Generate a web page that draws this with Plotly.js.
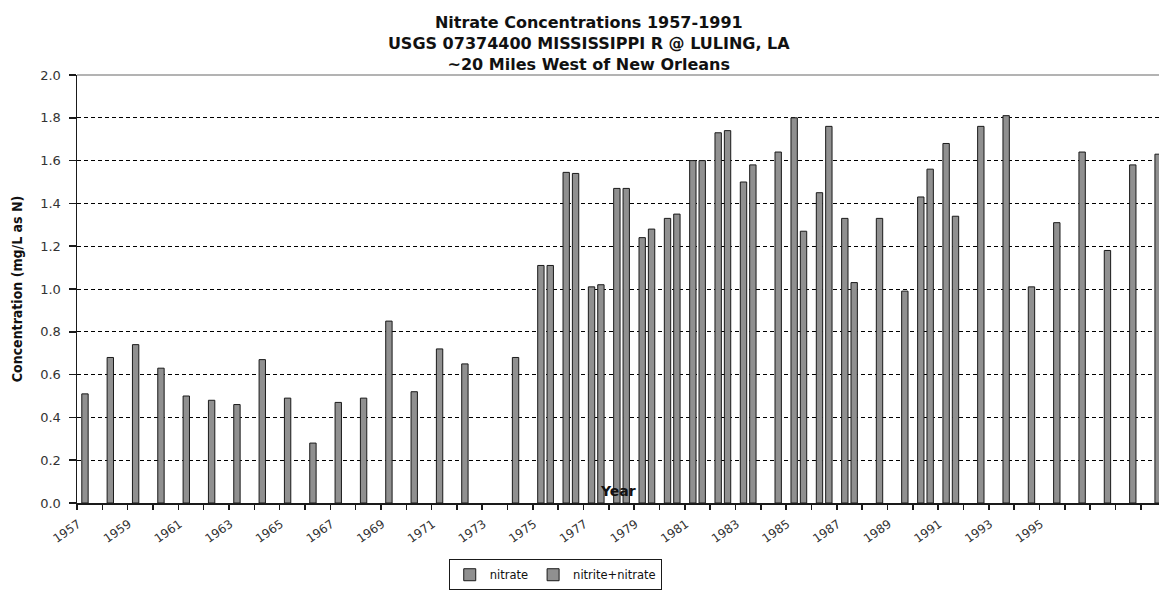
<!DOCTYPE html>
<html lang="en">
<head>
    <meta charset="UTF-8">
    <title>Nitrate Concentrations 1957-1991</title>
    <script src="https://cdn.plot.ly/plotly-3.0.0.min.js" charset="utf-8"></script>
    <style>
        html, body {
            margin: 0;
            padding: 0;
            background: #fff;
            overflow: hidden;
        }

        #chart {
            width: 1159px;
            height: 592px;
        }
    </style>
</head>
<body>
<div id="chart"></div>

<script>
    // Sampling years (one category per year)
    const years = [
        1957, 1958, 1959, 1960, 1961, 1962, 1963, 1964, 1965, 1966,
        1967, 1968, 1969, 1970, 1971, 1972, 1973, 1974, 1975, 1976,
        1977, 1978, 1979, 1980, 1981, 1982, 1983, 1984, 1985, 1986,
        1987, 1988, 1989, 1990, 1991, 1992, 1993, 1994, 1995, 1996,
        1997, 1998, 1999
    ];

    // mg/L as N (null = no value that year)
    const nitrate = [
        0.51, 0.68, 0.74, 0.63, 0.50, 0.48, 0.46, 0.67, 0.49, 0.28,
        0.47, 0.49, 0.85, 0.52, 0.72, 0.65, null, 0.68, 1.11, 1.545,
        1.01, 1.47, 1.24, 1.33, 1.60, 1.73, 1.50, null, 1.80, 1.45,
        1.33, null, null, 1.43, 1.68, null, null, null, null, null,
        null, null, null
    ];

    const nitriteNitrate = [
        null, null, null, null, null, null, null, null, null, null,
        null, null, null, null, null, null, null, null, 1.11, 1.54,
        1.02, 1.47, 1.28, 1.35, 1.60, 1.74, 1.58, 1.64, 1.27, 1.76,
        1.03, 1.33, 0.99, 1.56, 1.34, 1.76, 1.81, 1.01, 1.31, 1.64,
        1.18, 1.58, 1.63
    ];

    // only every other year is labelled, and nothing after 1995
    const labelYears = [
        1957, 1959, 1961, 1963, 1965, 1967, 1969, 1971, 1973, 1975,
        1977, 1979, 1981, 1983, 1985, 1987, 1989, 1991, 1993, 1995
    ];

    const yTicks = [0, 0.2, 0.4, 0.6, 0.8, 1.0, 1.2, 1.4, 1.6, 1.8, 2.0];

    const barStyle = {
        color: '#909090',
        line: { color: '#1a1a1a', width: 1 }
    };

    const traces = [
        {
            type: 'bar',
            name: 'nitrate',
            x: years,
            y: nitrate,
            marker: barStyle
        },
        {
            type: 'bar',
            name: 'nitrite+nitrate',
            x: years,
            y: nitriteNitrate,
            marker: barStyle
        }
    ];

    const sans = 'DejaVu Sans, Verdana, sans-serif';

    // Excel drew the slanted year labels a little left of each year's slot
    const labelShift = -0.45;

    const layout = {
        width: 1159,
        height: 592,
        paper_bgcolor: '#fff',
        plot_bgcolor: '#fff',
        margin: { l: 77, r: 0, t: 75, b: 89, pad: 0 },
        barmode: 'group',
        bargap: 0.26,
        bargroupgap: 0.32,
        showlegend: true,
        title: {
            text: 'Nitrate Concentrations 1957-1991<br>USGS 07374400 MISSISSIPPI R @ LULING, LA<br>~20 Miles West of New Orleans',
            font: { family: sans, size: 16, color: '#111', weight: 'bold' },
            x: 0.508,
            xanchor: 'center',
            y: 0.952,
            yanchor: 'top'
        },
        xaxis: {
            type: 'linear',
            range: [1956.5, 1999.22],
            automargin: false,
            tickmode: 'array',
            tickvals: labelYears.map(y => y + labelShift),
            ticktext: labelYears.map(String),
            tickangle: -35,
            ticks: '',
            ticklabelstandoff: 8,
            tickfont: { family: sans, size: 12, color: '#333' },
            showgrid: false,
            zeroline: false,
            showline: true,
            linecolor: '#1a1a1a',
            linewidth: 1.5,
            minor: {
                tickmode: 'linear',
                tick0: 1956.5,
                dtick: 1,
                ticks: 'outside',
                ticklen: 5,
                tickwidth: 1.5,
                tickcolor: '#1a1a1a',
                showgrid: false
            }
        },
        yaxis: {
            range: [0, 2],
            automargin: false,
            tickmode: 'array',
            tickvals: yTicks,
            ticktext: yTicks.map(v => v.toFixed(1)),
            ticks: 'outside',
            ticklen: 7,
            tickwidth: 1.5,
            tickcolor: '#1a1a1a',
            ticklabelstandoff: 5,
            tickfont: { family: sans, size: 13, color: '#333' },
            showgrid: true,
            gridcolor: '#000',
            gridwidth: 1,
            griddash: '4px,3px',
            zeroline: false,
            showline: true,
            linecolor: '#1a1a1a',
            linewidth: 1.5,
            title: {
                text: 'Concentration (mg/L as N)',
                font: { family: 'Liberation Sans Narrow, DejaVu Sans Condensed, Arial Narrow, sans-serif', size: 14, color: '#111', weight: 'bold' },
                standoff: 14
            }
        },
        // x-axis title placed as an annotation so it can sit between the labels and the legend
        annotations: [
            {
                text: 'Year',
                xref: 'paper',
                yref: 'container',
                x: 0.5,
                y: 0.057,
                xanchor: 'center',
                yanchor: 'middle',
                showarrow: false,
                font: { family: sans, size: 14, color: '#111', weight: 'bold' }
            }
        ],
        legend: {
            orientation: 'h',
            x: 0.442,
            xanchor: 'center',
            yref: 'container',
            y: 0.003,
            yanchor: 'bottom',
            bgcolor: '#fff',
            bordercolor: '#1a1a1a',
            borderwidth: 1,
            font: { family: sans, size: 11.5, color: '#111' },
            itemwidth: 30,
            traceorder: 'normal'
        },
        shapes: [
            {
                // grey frame line along the top of the plot area
                type: 'line',
                xref: 'paper',
                yref: 'paper',
                x0: 0, x1: 1,
                y0: 1, y1: 1,
                line: { color: '#9a9a9a', width: 1.5 },
                layer: 'above'
            }
        ]
    };

    Plotly.newPlot('chart', traces, layout, { displayModeBar: false, staticPlot: true });
</script>
</body>
</html>
